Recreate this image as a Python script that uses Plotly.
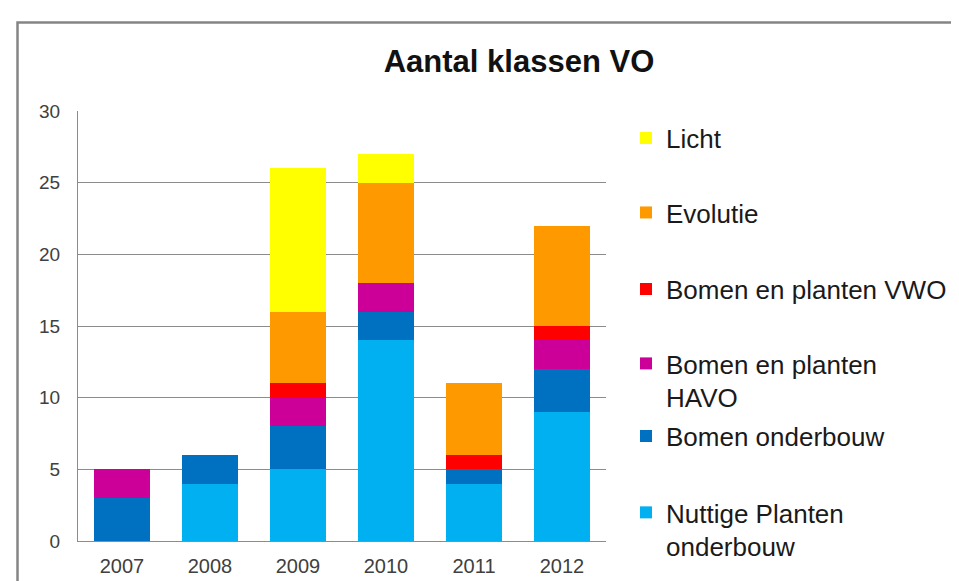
import plotly.graph_objects as go

years = ["2007", "2008", "2009", "2010", "2011", "2012"]
nuttige_planten = [0, 4, 5, 14, 4, 9]
bomen_onderbouw = [3, 2, 3, 2, 1, 3]
bomen_havo = [2, 0, 2, 2, 0, 2]
bomen_vwo = [0, 0, 1, 0, 1, 1]
evolutie = [0, 0, 5, 7, 5, 7]
licht = [0, 0, 10, 2, 0, 0]

series = [
    ("Nuttige Planten<br>onderbouw", nuttige_planten, "#00B0F0"),
    ("Bomen onderbouw", bomen_onderbouw, "#0070C0"),
    ("Bomen en planten<br>HAVO", bomen_havo, "#CC0099"),
    ("Bomen en planten VWO", bomen_vwo, "#FF0000"),
    ("Evolutie", evolutie, "#FF9900"),
    ("Licht", licht, "#FFFF00"),
]
# first-line centre (px from top) of each legend entry, same order as series
legend_rows = [507, 430, 357, 282, 205, 130]

W, H = 959, 581
L, R, T, B = 70, 361, 103, 45
pw, ph = W - L - R, H - T - B

def px_x(p):
    return (p - L) / pw

def px_y(p):
    return (H - B - p) / ph

fig = go.Figure()
legend_layout = {}
for i, (name, vals, col) in enumerate(series):
    key = "legend" if i == 0 else f"legend{i + 1}"
    fig.add_trace(go.Bar(x=years, y=vals, name=name, marker_color=col,
                         marker_line_width=0, legend=key))
    legend_layout[key] = dict(
        x=px_x(618), xanchor="left", y=px_y(legend_rows[i] - 23.4), yanchor="top",
        font=dict(size=26, color="#1a1a1a"), bgcolor="rgba(0,0,0,0)",
        valign="top",
    )

fig.update_layout(
    width=W, height=H,
    margin=dict(l=L, r=R, t=T, b=B),
    paper_bgcolor="white", plot_bgcolor="white",
    barmode="stack", bargap=0.36,
    font=dict(family="Liberation Sans, Arial, sans-serif", color="#404040"),
    title=dict(text="<b>Aantal klassen VO</b>", x=511 / W, xanchor="center",
               y=1 - 53 / H, yanchor="middle",
               font=dict(size=31, color="#111111")),
    showlegend=True,
    **legend_layout,
)
fig.update_yaxes(range=[0, 30], dtick=5, showgrid=True, gridcolor="#8c8c8c",
                 gridwidth=1, showline=True, linecolor="#8c8c8c", linewidth=1,
                 tickfont=dict(size=19, color="#404040"), ticklabelstandoff=13,
                 zeroline=False)
fig.update_xaxes(showline=True, linecolor="#8c8c8c", linewidth=1,
                 tickfont=dict(size=20, color="#404040"), ticklabelstandoff=7)

fig.add_shape(type="rect", xref="paper", yref="paper",
              x0=px_x(9.5), x1=px_x(975), y0=px_y(600), y1=px_y(14),
              line=dict(color="#858585", width=2.5), layer="below")

fig.write_html("out.html")
